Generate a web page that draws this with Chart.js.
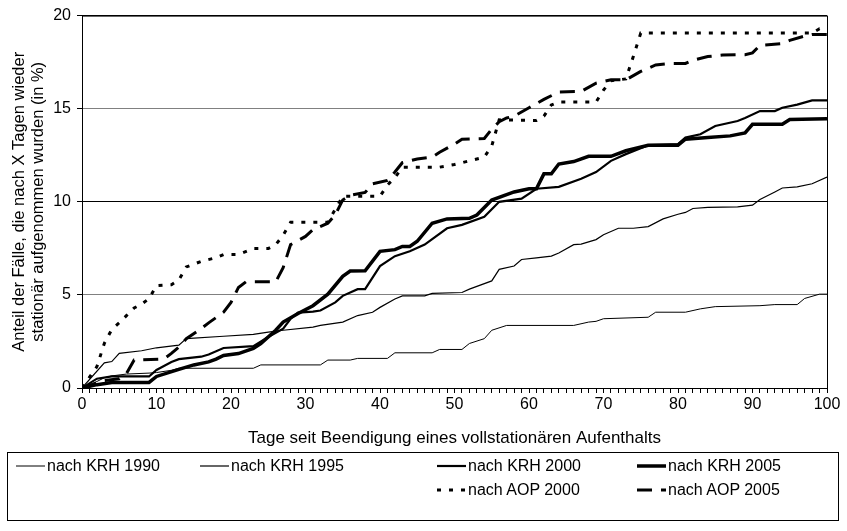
<!DOCTYPE html>
<html>
<head>
<meta charset="utf-8">
<script src="https://cdn.jsdelivr.net/npm/chart.js@4"></script>
<style>
  body { margin: 0; background: #fff; }
  #wrap { position: relative; width: 847px; height: 531px; font-family: "Liberation Sans", Arial, sans-serif; }
  #legend { position: absolute; left: 7px; top: 452px; width: 832px; height: 69px; border: 1px solid #000; box-sizing: border-box; }
  .item { position: absolute; height: 20px; font-size: 16px; line-height: 20px; color: #000; white-space: nowrap; }
  .item svg { vertical-align: middle; margin-right: 2px; position: relative; top: -1px; }
</style>
</head>
<body>
<div id="wrap">
  <canvas id="chart"></canvas>
  <div id="legend"></div>
</div>
<script>
// values (day -> percent)
const seriesNames = ['nach KRH 1990', 'nach KRH 1995', 'nach KRH 2000', 'nach KRH 2005', 'nach AOP 2000', 'nach AOP 2005'];

const krh1990Days = [0, 2, 3, 4, 6, 9, 10, 12, 13, 23, 24, 32, 33, 36, 37, 41, 42, 47, 48, 51, 52, 54, 55, 57, 66, 68, 69, 70, 76, 77, 81, 83, 85, 91, 93, 96, 97, 99, 100];
const krh1990Vals = [0, 0.35, 0.55, 0.65, 0.75, 0.8, 0.83, 0.95, 1.06, 1.06, 1.24, 1.24, 1.5, 1.5, 1.59, 1.59, 1.89, 1.89, 2.07, 2.07, 2.39, 2.65, 3.1, 3.36, 3.36, 3.54, 3.58, 3.72, 3.8, 4.07, 4.07, 4.25, 4.37, 4.42, 4.48, 4.48, 4.81, 5.04, 5.04];

const krh1995Days = [0, 3, 4, 5, 8, 10, 13, 14, 19, 23, 25, 27, 31, 32, 35, 37, 39, 40, 42, 43, 46, 47, 51, 52, 55, 56, 58, 59, 61, 63, 64, 66, 67, 69, 70, 72, 74, 76, 78, 80, 81, 82, 84, 88, 90, 91, 93, 94, 96, 98, 100];
const krh1995Vals = [0, 1.35, 1.42, 1.86, 2.0, 2.16, 2.3, 2.65, 2.78, 2.88, 3.0, 3.1, 3.27, 3.36, 3.54, 3.89, 4.07, 4.33, 4.78, 4.95, 4.95, 5.08, 5.13, 5.31, 5.75, 6.37, 6.55, 6.9, 6.99, 7.08, 7.25, 7.7, 7.73, 7.97, 8.23, 8.58, 8.58, 8.67, 9.08, 9.33, 9.43, 9.64, 9.7, 9.73, 9.82, 10.12, 10.53, 10.74, 10.8, 10.97, 11.33];

const krh2000Days = [0, 2, 4, 9, 10, 12, 13, 16, 17, 19, 23, 25, 27, 28, 29, 31, 32, 34, 35, 37, 38, 40, 42, 44, 46, 49, 51, 54, 56, 59, 61, 64, 67, 69, 71, 73, 76, 80, 81, 83, 85, 88, 89, 91, 93, 94, 96, 98, 100];
const krh2000Vals = [0, 0.5, 0.62, 0.62, 0.97, 1.4, 1.55, 1.68, 1.8, 2.15, 2.25, 2.74, 3.19, 3.72, 4.05, 4.1, 4.16, 4.6, 4.95, 5.31, 5.31, 6.55, 7.08, 7.34, 7.7, 8.58, 8.76, 9.2, 10.0, 10.17, 10.7, 10.8, 11.24, 11.6, 12.2, 12.56, 13.04, 13.1, 13.45, 13.63, 14.07, 14.34, 14.5, 14.87, 14.87, 15.05, 15.22, 15.45, 15.45];

const krh2005Days = [0, 2, 4, 9, 10, 13, 15, 17, 18, 19, 21, 23, 24, 26, 27, 29, 31, 33, 35, 36, 38, 40, 42, 43, 44, 45, 47, 49, 52, 53, 55, 58, 60, 61, 62, 63, 64, 66, 68, 71, 73, 76, 80, 81, 84, 87, 89, 90, 94, 95, 100];
const krh2005Vals = [0, 0.18, 0.3, 0.3, 0.62, 1.0, 1.24, 1.4, 1.55, 1.75, 1.85, 2.12, 2.39, 3.1, 3.54, 4.0, 4.42, 5.04, 6.0, 6.28, 6.3, 7.34, 7.43, 7.6, 7.6, 7.88, 8.85, 9.08, 9.11, 9.29, 10.09, 10.53, 10.7, 10.7, 11.5, 11.5, 12.03, 12.16, 12.44, 12.44, 12.74, 13.04, 13.04, 13.36, 13.45, 13.54, 13.7, 14.16, 14.16, 14.42, 14.46];

const aop2000Days = [0, 2, 3, 4, 5, 6, 7, 8, 9, 10, 12, 13, 14, 16, 18, 19, 21, 23, 25, 26, 27, 28, 33, 34, 35, 40, 41, 42, 43, 48, 50, 52, 54, 55, 56, 61, 62, 63, 64, 69, 70, 71, 73, 74, 75, 98, 99, 100];
const aop2000Vals = [0, 1.15, 2.4, 3.15, 3.5, 3.9, 4.3, 4.5, 4.8, 5.5, 5.55, 5.8, 6.5, 6.8, 7.0, 7.17, 7.17, 7.49, 7.49, 7.7, 8.2, 8.9, 8.9, 9.6, 10.3, 10.3, 10.9, 11.3, 11.86, 11.86, 12.0, 12.2, 12.4, 13.0, 14.4, 14.37, 14.6, 15.2, 15.36, 15.36, 16.0, 16.5, 16.6, 17.8, 19.06, 19.06, 19.3, 19.3];

const aop2005Days = [0, 3, 5, 6, 7, 11, 12, 13, 14, 16, 17, 19, 20, 21, 22, 26, 27, 28, 30, 31, 33, 34, 35, 36, 38, 39, 41, 42, 43, 45, 47, 48, 50, 51, 54, 55, 56, 57, 58, 60, 62, 64, 67, 69, 71, 73, 75, 77, 79, 81, 82, 84, 86, 89, 90, 91, 94, 95, 97, 98, 100];
const aop2005Vals = [0, 0.4, 0.5, 0.8, 1.5, 1.56, 1.86, 2.2, 2.65, 3.19, 3.5, 4.07, 4.6, 5.4, 5.7, 5.7, 6.46, 7.7, 8.14, 8.5, 8.85, 9.3, 10.1, 10.35, 10.5, 10.97, 11.15, 11.6, 12.1, 12.3, 12.4, 12.66, 13.1, 13.36, 13.4, 13.9, 14.3, 14.5, 14.6, 15.05, 15.5, 15.9, 15.93, 16.37, 16.55, 16.55, 17.0, 17.35, 17.43, 17.43, 17.6, 17.8, 17.88, 17.9, 18.0, 18.4, 18.5, 18.67, 18.9, 18.98, 18.98];

const xTickLabels = [0, 10, 20, 30, 40, 50, 60, 70, 80, 90, 100];
const yTickLabels = [0, 5, 10, 15, 20];
const xTitle = 'Tage seit Beendigung eines vollstationären Aufenthalts';
const yTitle = ['Anteil der Fälle, die nach X Tagen wieder', 'stationär aufgenommen wurden (in %)'];

const fontFamily = '"Liberation Sans", Arial, sans-serif';
Chart.defaults.color = '#000';
Chart.defaults.font.family = fontFamily;
Chart.defaults.font.size = 16;

function pts(days, vals) {
    return days.map((d, i) => ({ x: d, y: vals[i] }));
}

const lineStyles = [
    { width: 1, dash: [] },
    { width: 1.2, dash: [] },
    { width: 2.2, dash: [] },
    { width: 3.5, dash: [] },
    { width: 3, dash: [4, 8] },
    { width: 3, dash: [15, 9] },
];

const allData = [
    pts(krh1990Days, krh1990Vals),
    pts(krh1995Days, krh1995Vals),
    pts(krh2000Days, krh2000Vals),
    pts(krh2005Days, krh2005Vals),
    pts(aop2000Days, aop2000Vals),
    pts(aop2005Days, aop2005Vals),
];

const datasets = seriesNames.map((name, i) => ({
    label: name,
    data: allData[i],
    borderColor: '#000',
    borderWidth: lineStyles[i].width,
    borderDash: lineStyles[i].dash,
    pointRadius: 0,
    tension: 0,
    fill: false,
}));

// black frame round the plot area
const frame = {
    id: 'frame',
    beforeDatasetsDraw(chart) {
        const { ctx, chartArea: a } = chart;
        ctx.save();
        ctx.strokeStyle = '#000';
        ctx.lineWidth = 1;
        ctx.strokeRect(a.left + 0.5, a.top + 0.5, a.right - a.left, a.bottom - a.top);
        ctx.restore();
    }
};

new Chart(document.getElementById('chart'), {
    type: 'line',
    data: { datasets },
    plugins: [frame],
    options: {
        responsive: true,
        maintainAspectRatio: false,
        animation: false,
        events: [],
        layout: { padding: { top: 12, right: 20, left: 0, bottom: 81 } },
        plugins: { legend: { display: false }, tooltip: { enabled: false } },
        scales: {
            x: {
                type: 'linear',
                min: 0,
                max: 100,
                afterFit(scale) { scale.height = 62; },
                border: { color: '#000', width: 1 },
                grid: { drawOnChartArea: false, tickLength: 5, tickColor: '#000' },
                ticks: {
                    stepSize: 1,
                    autoSkip: false,
                    maxRotation: 0,
                    padding: 2,
                    callback: v => xTickLabels.includes(v) ? String(v) : ''
                },
                title: { display: true, text: xTitle, padding: { top: 4, bottom: 1 }, font: { size: 17 } }
            },
            y: {
                min: 0,
                max: 20,
                afterFit(scale) { scale.width = 82; },
                border: { color: '#000', width: 1 },
                grid: {
                    color: c => (c.tick && (c.tick.value === 5 || c.tick.value === 15)) ? '#808080' : '#000',
                    tickLength: 5,
                    tickColor: '#000'
                },
                ticks: {
                    stepSize: 5,
                    padding: 6,
                    callback: v => yTickLabels.includes(v) ? String(v) : ''
                },
                title: { display: true, text: yTitle, padding: { top: 10 }, font: { size: 16.5, lineHeight: 1.15 } }
            }
        }
    }
});

// legend drawn as html, same layout as the original box
const legendPos = [
    { left: 8, top: 3 }, { left: 192, top: 3 }, { left: 429, top: 3 }, { left: 629, top: 3 },
    { left: 429, top: 27 }, { left: 629, top: 27 }
];
const legend = document.getElementById('legend');
seriesNames.forEach((name, i) => {
    const s = lineStyles[i];
    const item = document.createElement('div');
    item.className = 'item';
    item.style.left = legendPos[i].left + 'px';
    item.style.top = legendPos[i].top + 'px';
    item.innerHTML = `<svg width="29" height="8"><line x1="0" y1="4" x2="29" y2="4" stroke="#000" stroke-width="${s.width}" stroke-dasharray="${s.dash.join(' ')}"/></svg>${name}`;
    legend.appendChild(item);
});
</script>
</body>
</html>
